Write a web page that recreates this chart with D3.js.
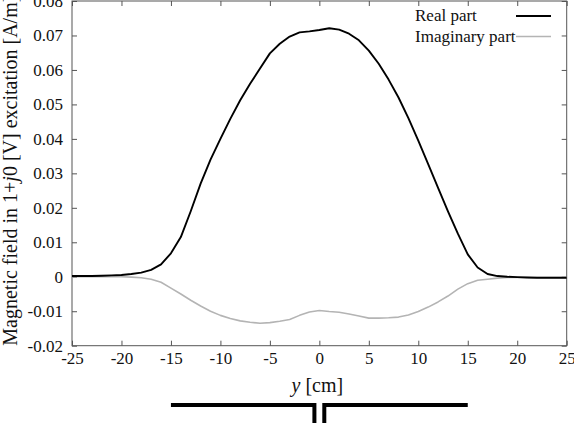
<!DOCTYPE html>
<html>
<head>
<meta charset="utf-8">
<script src="https://cdn.jsdelivr.net/npm/d3@7"></script>
<style>
  html, body { margin: 0; padding: 0; background: #fff; }
  svg { display: block; }
  svg text { font-family: "Liberation Serif", Tinos, "Times New Roman", Times, "DejaVu Serif", serif; fill: #111; }
</style>
</head>
<body>
<svg id="chart" width="574" height="426"></svg>
<script>
// ---- data ----
const positions = [-25,-24,-23,-22,-21,-20,-19,-18,-17,-16,-15,-14,-13,-12,-11,-10,-9,-8,-7,-6,-5,-4,-3,-2,-1,0,1,2,3,4,5,6,7,8,9,10,11,12,13,14,15,16,17,18,19,20,21,22,23,24,25];
const realPart = [0.0002,0.0002,0.0002,0.0003,0.0004,0.0005,0.0008,0.0012,0.0020,0.0036,0.0068,0.0115,0.0190,0.0270,0.0340,0.0400,0.0458,0.0512,0.0560,0.0604,0.0648,0.0676,0.0697,0.0709,0.0712,0.0716,0.0721,0.0717,0.0705,0.0686,0.0656,0.0618,0.0572,0.0520,0.0460,0.0395,0.0327,0.0258,0.0190,0.0125,0.0065,0.0027,0.0008,0.0002,0.0000,-0.0001,-0.0002,-0.0003,-0.0003,-0.0003,-0.0003];
const imagPart = [0,0,0,0,0,0,-0.0001,-0.0003,-0.0007,-0.0016,-0.0033,-0.0050,-0.0068,-0.0085,-0.0100,-0.0112,-0.0121,-0.0128,-0.0132,-0.0135,-0.0133,-0.0129,-0.0124,-0.0112,-0.0102,-0.0098,-0.0101,-0.0103,-0.0108,-0.0114,-0.0120,-0.0120,-0.0119,-0.0117,-0.0111,-0.0101,-0.0088,-0.0073,-0.0056,-0.0036,-0.0020,-0.0010,-0.0007,-0.0004,-0.0002,-0.0002,-0.0002,-0.0002,-0.0002,-0.0002,-0.0002];
const xTicks = [-25,-20,-15,-10,-5,0,5,10,15,20,25];
const yTicks = [-0.02,-0.01,0,0.01,0.02,0.03,0.04,0.05,0.06,0.07,0.08];
const yTickLabels = ["-0.02","-0.01","0","0.01","0.02","0.03","0.04","0.05","0.06","0.07","0.08"];
const seriesNames = ["Real part","Imaginary part"];
const seriesColors = ["#000000","#b4b4b4"];
// slot geometry under the plot (strip from -15 to 15 cm with a gap at the centre)
const stripEdges = [-15, -0.5, 0.5, 15];

// ---- layout ----
const W = 574, H = 426;
const m = {left: 72, right: 7.3, top: 1, bottom: 80.3};
const FONT = '"Liberation Serif", Tinos, "Times New Roman", Times, "DejaVu Serif", serif';
const svg = d3.select("#chart");
const x = d3.scaleLinear().domain([-25, 25]).range([m.left, W - m.right]);
const y = d3.scaleLinear().domain([-0.02, 0.08]).range([H - m.bottom, m.top]);
const frameColor = "#555";
const tickLen = 5;

// axes
const fmtY = d => yTickLabels[yTicks.indexOf(d)];
const gx = svg.append("g").attr("transform", `translate(0,${y(-0.02)})`)
  .call(d3.axisBottom(x).tickValues(xTicks).tickSize(-tickLen).tickPadding(6).tickFormat(d => d));
const gxTop = svg.append("g").attr("transform", `translate(0,${y(0.08)})`)
  .call(d3.axisTop(x).tickValues(xTicks).tickSize(-tickLen).tickFormat(""));
const gy = svg.append("g").attr("transform", `translate(${x(-25)},0)`)
  .call(d3.axisLeft(y).tickValues(yTicks).tickSize(-tickLen).tickPadding(9).tickFormat(fmtY));
const gyR = svg.append("g").attr("transform", `translate(${x(25)},0)`)
  .call(d3.axisRight(y).tickValues(yTicks).tickSize(-tickLen).tickFormat(""));
[gx, gxTop, gy, gyR].forEach(g => {
  g.attr("font-family", FONT);
  g.select(".domain").remove();
  g.selectAll(".tick line").attr("stroke", frameColor).attr("stroke-width", 1);
  g.selectAll(".tick text").style("font-family", FONT).attr("font-size", 17).attr("fill", "#111");
});
gx.selectAll(".tick text").attr("dy", "0.71em");

// frame
svg.append("rect")
  .attr("x", x(-25)).attr("y", y(0.08))
  .attr("width", x(25) - x(-25)).attr("height", y(-0.02) - y(0.08))
  .attr("fill", "none").attr("stroke", frameColor).attr("stroke-width", 1);

// lines
const line = d3.line().x((d, i) => x(positions[i])).y(d => y(d));
svg.append("path").datum(imagPart).attr("d", line)
  .attr("fill", "none").attr("stroke", seriesColors[1]).attr("stroke-width", 1.6).attr("stroke-linejoin", "round");
svg.append("path").datum(realPart).attr("d", line)
  .attr("fill", "none").attr("stroke", seriesColors[0]).attr("stroke-width", 1.9).attr("stroke-linejoin", "round");

// legend
const legX = 415, legLine = [516, 551];
seriesNames.forEach((name, i) => {
  const cy = 16 + i * 20.5;
  svg.append("text").attr("x", legX).attr("y", cy).attr("dy", "0.3em")
    .style("font-family", FONT).attr("font-size", 17).text(name);
  svg.append("line").attr("x1", legLine[0]).attr("x2", legLine[1]).attr("y1", cy).attr("y2", cy)
    .attr("stroke", seriesColors[i]).attr("stroke-width", i === 0 ? 1.9 : 1.6);
});

// axis titles
const xt = svg.append("text").attr("x", x(-0.2)).attr("y", 392).attr("text-anchor", "middle")
  .style("font-family", FONT).attr("font-size", 20);
xt.append("tspan").attr("font-style", "italic").text("y");
xt.append("tspan").text(" [cm]");

const yt = svg.append("text").attr("transform", `translate(17,${y(-0.02)}) rotate(-90)`)
  .attr("text-anchor", "start").style("font-family", FONT).attr("font-size", 20);
yt.append("tspan").text("Magnetic field in 1+");
yt.append("tspan").attr("font-style", "italic").text("j");
yt.append("tspan").text("0 [V] excitation [A/m]");

// slot diagram
const stripY = 405, stripBottom = 423;
svg.append("path")
  .attr("d", `M${x(stripEdges[0])},${stripY} H${x(stripEdges[1])} V${stripBottom}`)
  .attr("fill", "none").attr("stroke", "#000").attr("stroke-width", 4).attr("stroke-linejoin", "miter");
svg.append("path")
  .attr("d", `M${x(stripEdges[2])},${stripBottom} V${stripY} H${x(stripEdges[3])}`)
  .attr("fill", "none").attr("stroke", "#000").attr("stroke-width", 4).attr("stroke-linejoin", "miter");
</script>
</body>
</html>
